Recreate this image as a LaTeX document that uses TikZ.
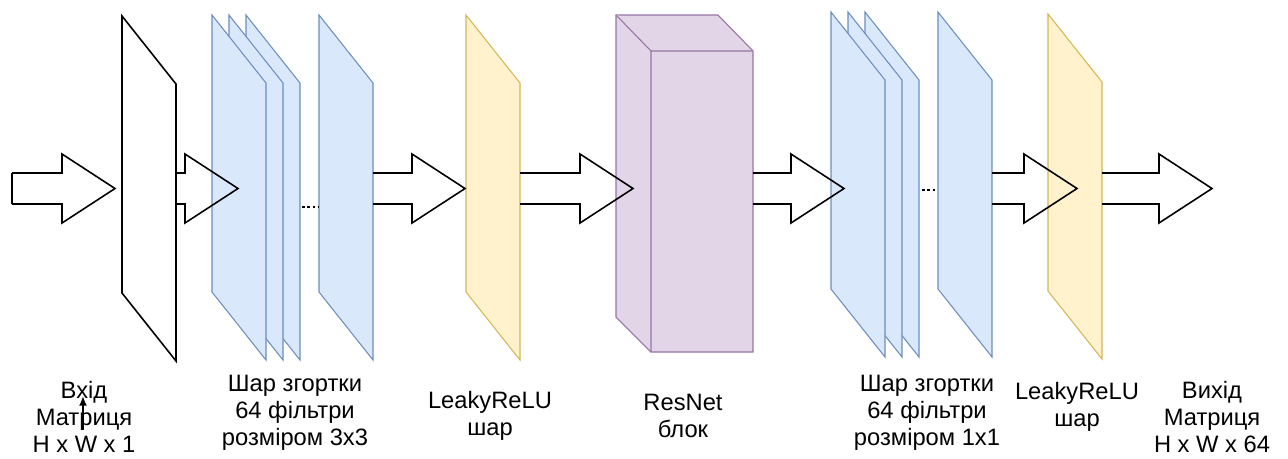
\documentclass[tikz,border=0pt]{standalone}
\usepackage{fontspec}
\setmainfont{Liberation Sans}
\usetikzlibrary{calc,arrows.meta}
\definecolor{convfill}{HTML}{DAE8FC}
\definecolor{convline}{HTML}{6C8EBF}
\definecolor{actfill}{HTML}{FFF2CC}
\definecolor{actline}{HTML}{D6B656}
\definecolor{resfill}{HTML}{E1D5E7}
\definecolor{resline}{HTML}{9673A6}
\newcommand{\layer}[3]{\draw[#1] (#2,#3) -- ++(54,68) -- ++(0,277) -- ++(-54,-68) -- cycle;}
\newcommand{\bigarrow}[2]{\draw[bigarr] ($(#1)+(0,-15.5)$) -- ($(#2)+(-53,-15.5)$) -- ($(#2)+(-53,-34.5)$) -- (#2) -- ($(#2)+(-53,34.5)$) -- ($(#2)+(-53,15.5)$) -- ($(#1)+(0,15.5)$);}
\begin{document}
\begin{tikzpicture}[x=0.02cm, y=-0.02cm,
		bigarr/.style={line width=0.9pt, line join=miter},
		inlayer/.style={fill=white, draw=black, line width=0.9pt},
		convlayer/.style={fill=convfill, draw=convline, line width=0.6pt},
		actlayer/.style={fill=actfill, draw=actline, line width=0.6pt},
		reslayer/.style={fill=resfill, draw=resline, line width=0.6pt},
		lbl/.style={align=center, font=\fontsize{13.5}{15.3}\selectfont}]
		\useasboundingbox (0,0) rectangle (1288,458);
		\layer{inlayer}{122}{16}
		\layer{convlayer}{246}{15}
		\layer{convlayer}{229}{15}
		\layer{convlayer}{212}{15}
		\layer{convlayer}{319}{15}
		\layer{actlayer}{466}{15}
		\draw[reslayer] (616,15) -- (718,15) -- (753,51) -- (753,352) -- (651,352) -- (616,317) -- cycle;
		\draw[reslayer] (616,15) -- (651,51) -- (753,51) (651,51) -- (651,352);
		\layer{convlayer}{865}{12}
		\layer{convlayer}{848}{12}
		\layer{convlayer}{831}{12}
		\layer{convlayer}{938}{12}
		\layer{actlayer}{1048}{14}
		\draw [dash pattern=on 1.6pt off 1.4pt, line width=0.7pt] (302,207)--(318,207);
		\draw [dash pattern=on 1.6pt off 1.4pt, line width=0.7pt] (922,190)--(937,190);
		\coordinate (in0) at (12,188.5);
		\coordinate (in) at (115,188.5);
		\coordinate (inout) at (176,188.5);
		\coordinate (conva) at (238,188.5);
		\coordinate (convaout) at (373,188.5);
		\coordinate (acta) at (465,188.5);
		\coordinate (actaout) at (520,188.5);
		\coordinate (res) at (633,188.5);
		\coordinate (resout) at (753,188.5);
		\coordinate (convb) at (844,188.5);
		\coordinate (convbout) at (992,188.5);
		\coordinate (actb) at (1077,188.5);
		\coordinate (actbout) at (1102,188.5);
		\coordinate (out) at (1212,188.5);
		\bigarrow{in0}{in}
		\draw[bigarr] ($(in0)+(0,-15.5)$) -- ($(in0)+(0,15.5)$);
		\bigarrow{inout}{conva}
		\bigarrow{convaout}{acta}
		\bigarrow{actaout}{res}
		\bigarrow{resout}{convb}
		\bigarrow{convbout}{actb}
		\bigarrow{actbout}{out}
		\node[lbl] (inlbl) at (84,417) {Вхід\\Матриця\\H x W x 1};
		\node[lbl] (convalbl) at (295,413) {Шар згортки\\64 фільтри\\розміром 3x3};
		\node[lbl] (actalbl) at (490,416) {LeakyReLU\\шар};
		\node[lbl] (reslbl) at (683,416) {ResNet\\блок};
		\node[lbl] (convblbl) at (927,413) {Шар згортки\\64 фільтри\\розміром 1x1};
		\node[lbl] (actblbl) at (1077,407) {LeakyReLU\\шар};
		\node[lbl] (outlbl) at (1212,417) {Вихід\\Матриця\\H x W x 64};
		\coordinate (tick) at (83,430);
		\coordinate (ticktip) at (83,396);
		\draw [-{Latex[length=5.5pt,width=4.5pt]}, line width=0.9pt] (tick)--(ticktip);
	\end{tikzpicture}
\end{document}
